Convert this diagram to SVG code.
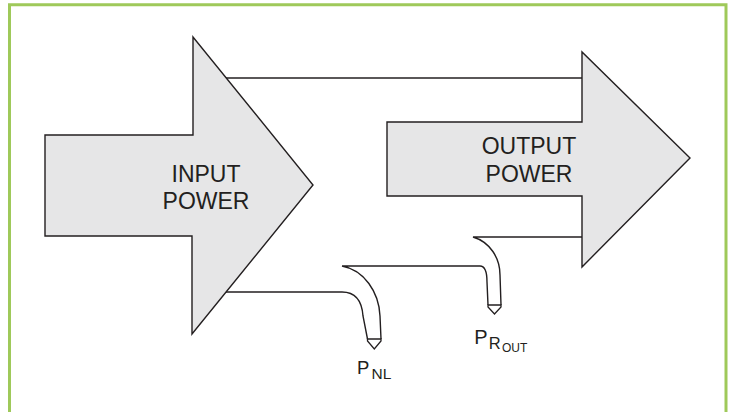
<svg xmlns="http://www.w3.org/2000/svg" width="735" height="412" viewBox="0 0 735 412">
<style>
.arrow{fill:#e6e6e7;stroke:#231f20;stroke-width:1.4;stroke-linejoin:miter}
.line{fill:none;stroke:#231f20;stroke-width:1.4}
.cap{fill:#ffffff;stroke:#231f20;stroke-width:1.3;stroke-linejoin:miter}
.lbl{font-family:"Liberation Sans",Arial,sans-serif;fill:#231f20}
.big{font-size:23px;text-anchor:middle}
</style>
<rect x="0" y="0" width="735" height="412" fill="#ffffff"/>
<path d="M9.5,412 V4.7 H726 V412" fill="none" stroke="#9fc95a" stroke-width="3"/>
<g id="input-power">
<polygon class="arrow" points="45,135 193,135 193,37 313,185 192,334 192,236 45,236"/>
<text class="lbl big" x="206" y="182">INPUT</text>
<text class="lbl big" x="206" y="209">POWER</text>
</g>
<g id="output-power">
<polygon class="arrow" points="387,122 582,122 582,52 690,158 582,267 582,196 387,196"/>
<text class="lbl big" x="529" y="154">OUTPUT</text>
<text class="lbl big" x="529" y="182">POWER</text>
</g>
<g id="connectors">
<path class="line" d="M226,78 H582"/>
<path class="line" d="M226,292 H342 C356,292 362,302 363,316 L367.5,339"/>
<path class="line" d="M381,339 L380,316 C379,292 364,270 342,266 H480 C486,266 487,274 487,282 L488,305"/>
<path class="line" d="M582,237 H473 C490,242 500,258 500,275 L501,305"/>
<polygon class="cap" points="367.5,339 381,339 381,341 374.3,349 367.5,341"/>
<polygon class="cap" points="488,305 501,305 501,307 494.5,314 488,307"/>
</g>
<g id="p-nl">
<text class="lbl" x="357" y="374" font-size="18.5">P</text>
<text class="lbl" x="371.5" y="379" font-size="15.5">NL</text>
</g>
<g id="p-rout">
<text class="lbl" x="474.3" y="344" font-size="20">P</text>
<text class="lbl" x="488.8" y="349" font-size="16.5">R</text>
<text class="lbl" x="502" y="351.5" font-size="12">OUT</text>
</g>
</svg>
